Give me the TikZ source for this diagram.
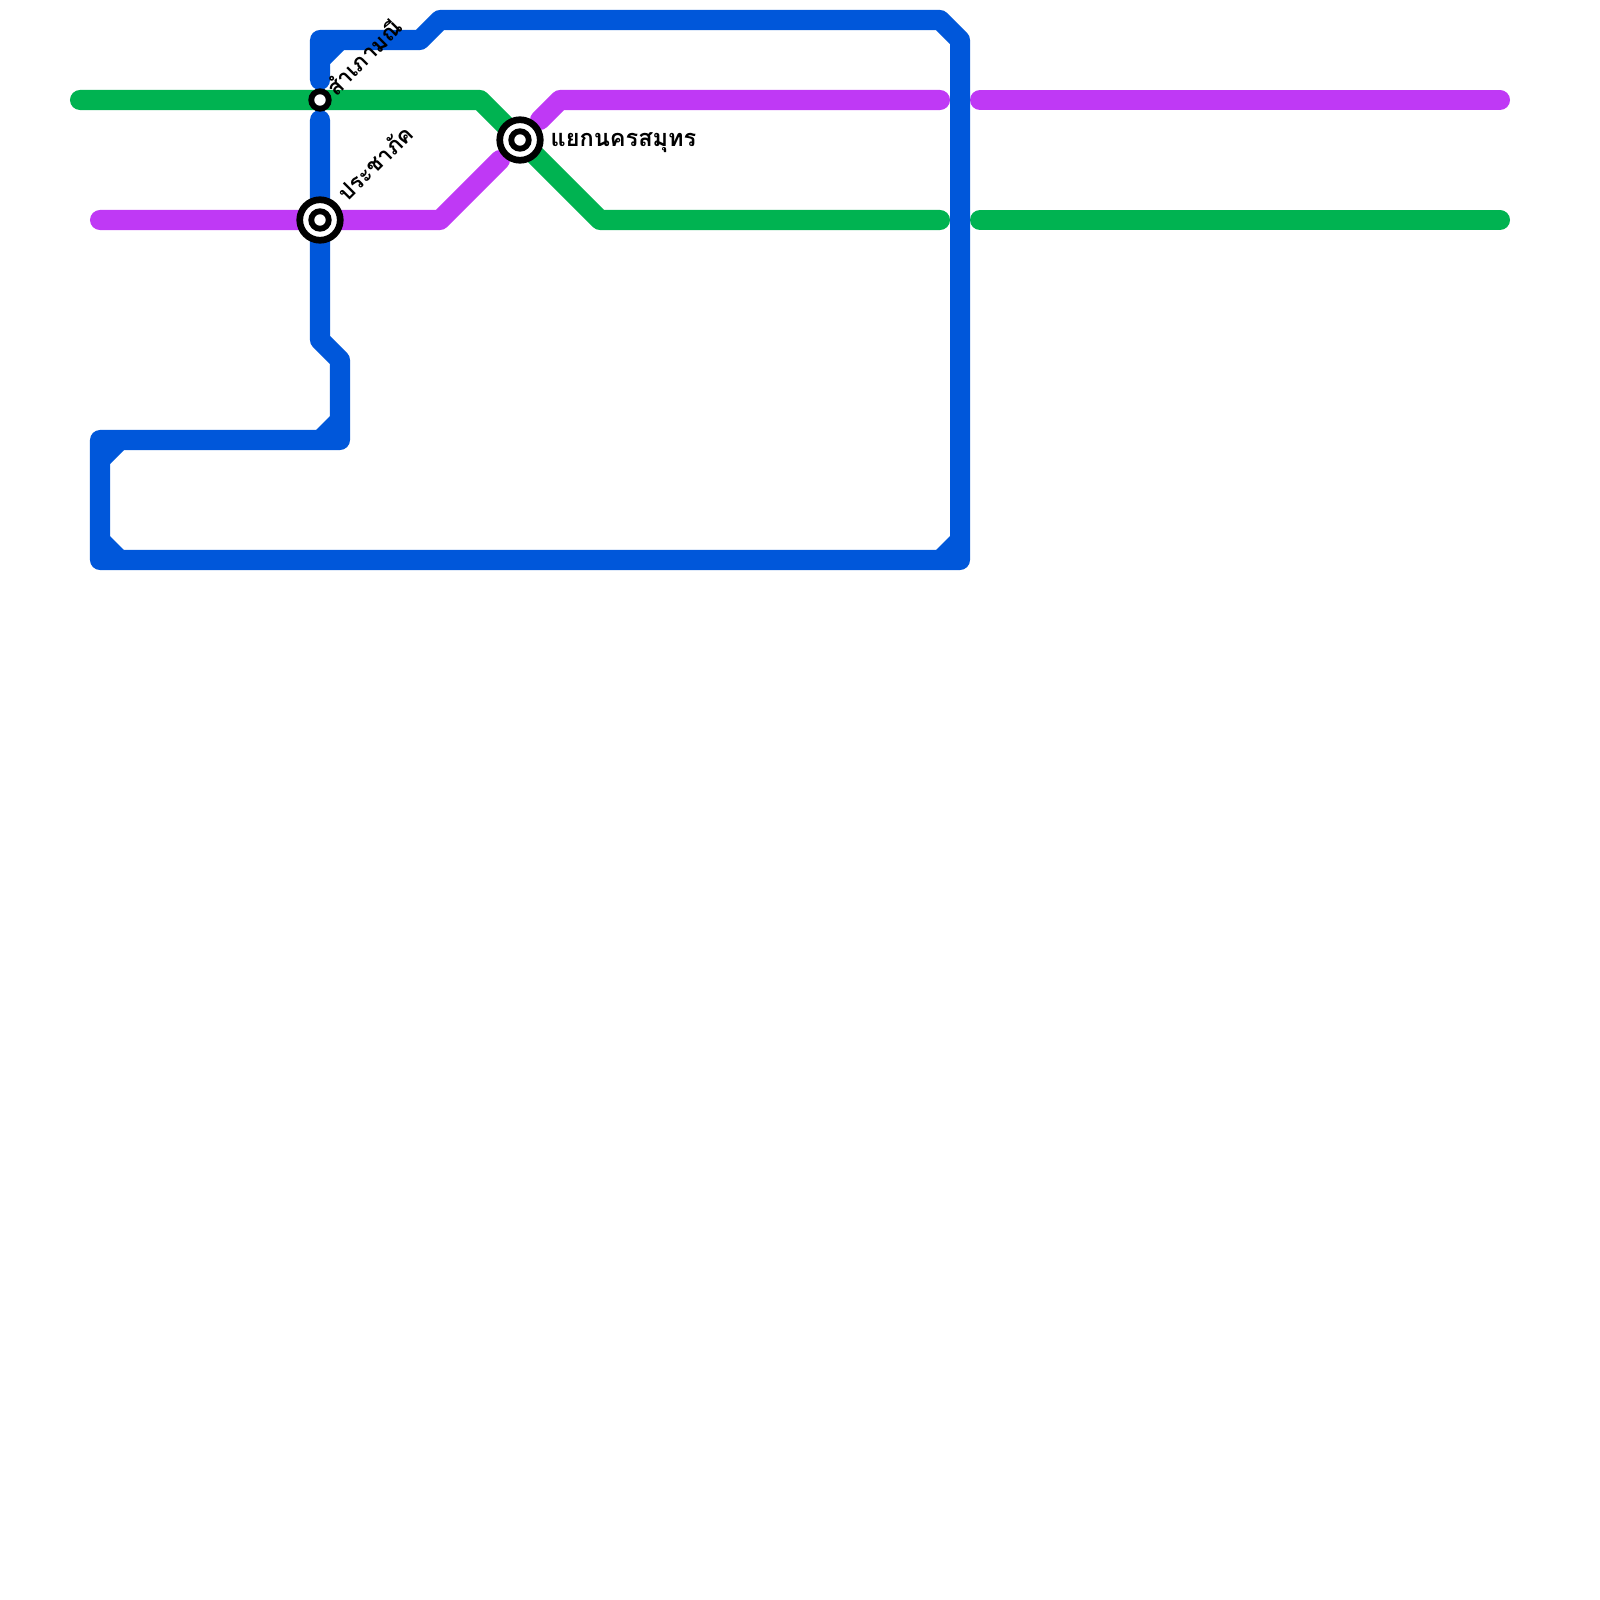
\documentclass[tikz,border=0pt]{standalone}
\usepackage{xcolor}
\usepackage{fontspec}
\usetikzlibrary{positioning}
\newfontfamily\thaifont[Script=Thai]{Loma}
\definecolor{lineblue}{HTML}{0057DA}
\definecolor{linegreen}{HTML}{00B351}
\definecolor{linepurple}{HTML}{BF39F5}
\begin{document}
\begin{tikzpicture}[
    x=0.01cm, y=-0.01cm,
    metro/.style={line width=0.2cm, line cap=round, line join=round},
    station/.style={draw=black, fill=white, circle, line width=0.058cm, inner sep=0pt, minimum size=0.175cm},
    interchange/.style={station, line width=0.067cm, minimum size=0.405cm},
    stationlabel/.style={font=\thaifont\bfseries\fontsize{0.235cm}{0.3cm}\selectfont, inner sep=0pt},
    slantlabel/.style={stationlabel, font=\thaifont\bfseries\fontsize{0.222cm}{0.3cm}\selectfont, anchor=west, rotate=45}
]
\useasboundingbox (0,0) rectangle (1600,1600);
% blue line bends
\coordinate (b1) at (320,80);
\coordinate (b2) at (320,40);
\coordinate (b3) at (420,40);
\coordinate (b4) at (440,20);
\coordinate (b5) at (940,20);
\coordinate (b6) at (960,40);
\coordinate (b7) at (960,560);
\coordinate (b8) at (100,560);
\coordinate (b9) at (100,440);
\coordinate (b10) at (340,440);
\coordinate (b11) at (340,360);
\coordinate (b12) at (320,340);
\coordinate (b13) at (320,120);
% green line
\coordinate (g1) at (80,100);
\coordinate (g2) at (480,100);
\coordinate (g3) at (600,220);
\coordinate (g4) at (940,220);
\coordinate (g5) at (980,220);
\coordinate (g6) at (1500,220);
% purple line
\coordinate (p1) at (100,220);
\coordinate (p2) at (440,220);
\coordinate (p3) at (500,160);
\coordinate (p4) at (540,120);
\coordinate (p5) at (560,100);
\coordinate (p6) at (940,100);
\coordinate (p7) at (980,100);
\coordinate (p8) at (1500,100);

\draw[metro, linepurple] (p1) -- (p2) -- (p3);
\draw[metro, linepurple] (p4) -- (p5) -- (p6);
\draw[metro, linepurple] (p7) -- (p8);
\draw[metro, linegreen] (g1) -- (g2) -- (g3) -- (g4);
\draw[metro, linegreen] (g5) -- (g6);
\draw[metro, lineblue] (b1) -- (b2) -- (b3) -- (b4) -- (b5) -- (b6) -- (b7) -- (b8) -- (b9) -- (b10) -- (b11) -- (b12) -- (b13);
% filled inner corners
\foreach \cx/\cy/\sx/\sy in {320/40/1/1, 960/560/-1/-1, 100/560/1/-1, 100/440/1/1, 340/440/-1/-1}
    \fill[lineblue] (\cx+10*\sx,\cy+10*\sy) -- ++(14*\sx,0) -- ++(-14*\sx,14*\sy) -- cycle;

\node[station] (samphao) at (320,100) {};
\node[interchange] (prachaphak) at (320,220) {};
\node[station] (prachaphakin) at (prachaphak) {};
\node[interchange] (yaek) at (520,140) {};
\node[station] (yaekin) at (yaek) {};

\node[slantlabel] (samphaolabel) at (329,91) {สำเภามณี};
\node[slantlabel] (prachaphaklabel) at (341,197) {ประชาภัค};
\node[stationlabel, anchor=west] (yaeklabel) at (550,143) {แยกนครสมุทร};
\end{tikzpicture}
\end{document}
